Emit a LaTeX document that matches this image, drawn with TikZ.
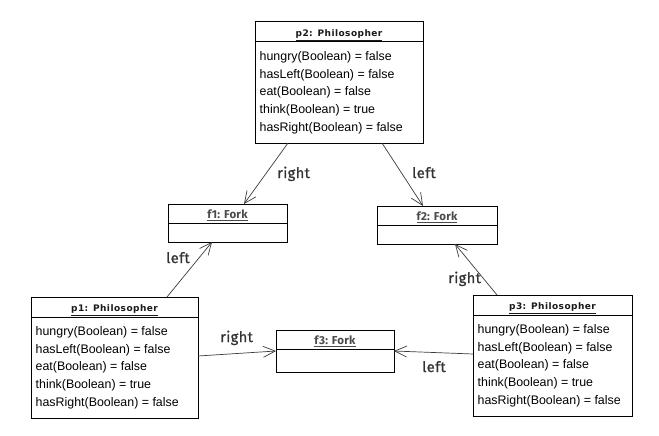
\documentclass[tikz,border=0pt]{standalone}
\usepackage{fontspec}
\setmainfont{Liberation Sans}
\newfontfamily\ptitlefont[LetterSpace=5]{DejaVu Sans}
\newfontfamily\lblfont[LetterSpace=3,FakeBold=1.2]{Fira Sans}
\newfontfamily\ftitlefont[LetterSpace=2]{Fira Sans}
\usetikzlibrary{arrows.meta}
\definecolor{lblcol}{HTML}{333333}
\definecolor{ftcol}{HTML}{4A4A4A}
\definecolor{ptcol}{HTML}{1A1A1A}
\definecolor{conncol}{HTML}{3C3C3C}
\newcommand\PhilBox[5]{%
  \node[umlbox, minimum width=#4pt, minimum height=121pt] (#1) at (#2,#3) {};
  \draw[divline] ([yshift=-20pt]#1.north west) -- ([yshift=-20pt]#1.north east);
  \node[ptitle] (#1t) at ([yshift=-14.5pt]#1.north) {\underline{#5}};
  \foreach \t [count=\i] in {hungry(Boolean) = false, hasLeft(Boolean) = false, eat(Boolean) = false, think(Boolean) = true, hasRight(Boolean) = false} {
    \pgfmathsetmacro\yy{-35-(\i-1)*17.8}
    \node[attr] (#1a\i) at ([xshift=4.5pt,yshift=\yy pt]#1.north west) {\t};
  }
}
\newcommand\ForkBox[7]{%
  \node[umlbox, minimum width=#4pt, minimum height=#5pt] (#1) at (#2,#3) {};
  \draw[divline] ([yshift=-#6pt]#1.north west) -- ([yshift=-#6pt]#1.north east);
  \node[ftitle] (#1t) at ([yshift=-14.5pt]#1.north) {\underline{#7}};
}
\begin{document}
\begin{tikzpicture}[x=1pt,y=-1pt,
  umlbox/.style={draw=black, line width=1pt, inner sep=0pt, outer sep=0pt, anchor=north west, fill=white},
  divline/.style={draw=black, line width=1pt},
  ptitle/.style={anchor=base, inner sep=0pt, text=ptcol, font=\ptitlefont\bfseries\fontsize{9}{10}\selectfont},
  ftitle/.style={anchor=base, inner sep=0pt, text=ftcol, font=\ftitlefont\bfseries\fontsize{11.5}{13}\selectfont},
  attr/.style={anchor=west, inner sep=0pt, text=black, font=\fontsize{12.4}{14}\selectfont},
  lbl/.style={anchor=base west, inner sep=0pt, text=lblcol, font=\lblfont\fontsize{14.5}{16}\selectfont},
  conn/.style={draw=conncol, line width=0.7pt, -{Straight Barb[length=12pt,width=11pt,line width=0.7pt]}}
]
\useasboundingbox[fill=white] (0,0) rectangle (659,436);

\PhilBox{p2}{255}{22}{168}{p2: Philosopher}
\PhilBox{p1}{31}{297}{167}{p1: Philosopher}
\PhilBox{p3}{473}{295}{159}{p3: Philosopher}

\ForkBox{f1}{168}{204}{119}{38}{19}{f1: Fork}
\ForkBox{f2}{377}{206}{120}{38}{19}{f2: Fork}
\ForkBox{f3}{276}{330}{118}{42}{19}{f3: Fork}

% connectors
\draw[conn] ([xshift=33pt]p2.south west) -- ([xshift=76pt]f1.north west);
\draw[conn] ([xshift=127pt]p2.south west) -- ([xshift=46pt]f2.north west);
\draw[conn] ([xshift=136pt]p1.north west) -- ([xshift=44pt]f1.south west);
\draw[conn] ([xshift=24pt]p3.north west) -- ([xshift=78pt]f2.south west);
\draw[conn] ([yshift=-59pt]p1.north east) -- ([yshift=-21pt]f3.north west);
\draw[conn] ([yshift=-59pt]p3.north west) -- ([yshift=-21pt]f3.north east);

% labels
\node[lbl] (l1) at (277,178) {right};
\node[lbl] (l2) at (412,178) {left};
\node[lbl] (l3) at (166,263) {left};
\node[lbl] (l4) at (448,283) {right};
\node[lbl] (l5) at (220,342) {right};
\node[lbl] (l6) at (422,372) {left};
\end{tikzpicture}
\end{document}
